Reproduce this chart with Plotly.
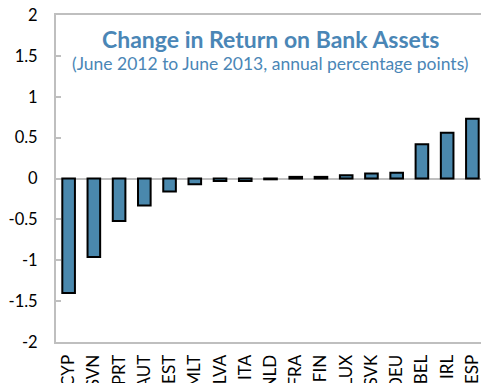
import plotly.graph_objects as go

# change in return on bank assets, June 2012 -> June 2013 (pp)
countries = ["CYP", "SVN", "PRT", "AUT", "EST", "MLT", "LVA", "ITA", "NLD",
             "FRA", "FIN", "LUX", "SVK", "DEU", "BEL", "IRL", "ESP"]
change = [-1.40, -0.96, -0.52, -0.33, -0.16, -0.07, -0.03, -0.03, -0.01,
          0.02, 0.02, 0.04, 0.06, 0.07, 0.42, 0.56, 0.73]
y_ticks = [-2, -1.5, -1, -0.5, 0, 0.5, 1, 1.5, 2]

FONT = "Lato"
BLUE = "#4A88AD"
TITLE_BLUE = "#4A86B6"
GREY = "#BFBFBF"

fig = go.Figure()

fig.add_trace(
    go.Bar(
        x=countries,
        y=change,
        width=0.5,
        marker=dict(color=BLUE, line=dict(color="#000000", width=2)),
        showlegend=False,
    )
)

# little grey tick marks sitting on top of the zero line, between categories
n_gaps = len(countries) - 1
fig.add_trace(
    go.Scatter(
        x=[i + 0.5 for i in range(n_gaps)],
        y=[0] * n_gaps,
        mode="markers",
        marker=dict(size=1, color="rgba(0,0,0,0)"),
        error_y=dict(
            type="data", symmetric=False,
            array=[0.06] * n_gaps, arrayminus=[0] * n_gaps,
            color=GREY, thickness=2, width=0,
        ),
        hoverinfo="skip",
        showlegend=False,
    )
)

fig.add_annotation(
    xref="paper", yref="paper", x=0.5, y=0.928, yanchor="middle",
    text="<b>Change in Return on Bank Assets</b>",
    showarrow=False, font=dict(family=FONT, size=23, color=TITLE_BLUE),
)
fig.add_annotation(
    xref="paper", yref="paper", x=0.5, y=0.853, yanchor="middle",
    text="(June 2012 to June 2013, annual percentage points)",
    showarrow=False, font=dict(family=FONT, size=17.5, color=TITLE_BLUE),
)

# page body has an 8px margin, so the figure is shrunk to fit the window
fig.update_layout(
    width=481,
    height=375,
    margin=dict(l=48, r=4, t=7, b=41),
    plot_bgcolor="white",
    paper_bgcolor="white",
    font=dict(family=FONT, size=17, color="#000000"),
    bargap=0.5,
    xaxis=dict(
        type="category",
        tickangle=-90,
        showline=True, linecolor=GREY, linewidth=2, mirror=True,
        ticks="", showgrid=False, zeroline=False,
        automargin=False,
        tickfont=dict(size=17),
        ticklabelstandoff=4,
        ticklabeloverflow="allow",
        range=[-0.5, len(countries) - 0.5],
    ),
    yaxis=dict(
        range=[-2, 2],
        tickvals=y_ticks,
        ticktext=[str(v) for v in y_ticks],
        showline=True, linecolor=GREY, linewidth=2, mirror=True,
        ticks="inside", ticklen=5, tickwidth=2, tickcolor=GREY,
        showgrid=False,
        zeroline=True, zerolinecolor=GREY, zerolinewidth=2,
        automargin=False,
        tickfont=dict(size=16.5),
        ticklabelstandoff=13,
        ticklabeloverflow="allow",
    ),
)

fig.write_html("out.html")
